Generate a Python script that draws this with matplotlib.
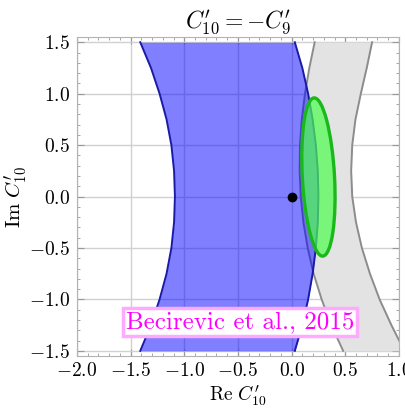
import numpy as np
import matplotlib
matplotlib.use("Agg")
import matplotlib.pyplot as plt
from matplotlib.patches import Ellipse
from matplotlib.ticker import MultipleLocator, FuncFormatter

plt.rcParams['mathtext.fontset'] = 'cm'
plt.rcParams['font.family'] = 'serif'

# Boundary samples (Im C'10 values and Re C'10 boundaries)
y_pts = [-1.5, -1.25, -1.0, -0.75, -0.5, -0.25, 0.0, 0.25, 0.5, 0.75, 1.0, 1.25, 1.5]
blue_left = [-1.41, -1.31, -1.23, -1.165, -1.12, -1.095, -1.087, -1.095, -1.12, -1.165, -1.23, -1.31, -1.41]
blue_right = [0.03, 0.10, 0.154, 0.196, 0.226, 0.244, 0.25, 0.244, 0.226, 0.196, 0.154, 0.10, 0.03]
gray_left = [0.48, 0.37, 0.28, 0.205, 0.15, 0.11, 0.085, 0.075, 0.078, 0.095, 0.125, 0.165, 0.215]
gray_right = [1.05, 0.93, 0.82, 0.73, 0.655, 0.60, 0.565, 0.555, 0.565, 0.595, 0.645, 0.70, 0.75]

# Green ellipse (center, full width, full height, tilt in degrees)
ell_center = (0.25, 0.19)
ell_width = 0.30
ell_height = 1.54
ell_angle = 3.0

sm_point = (0.0, 0.0)
label_text = "Becirevic et al., 2015"
label_pos = (-0.48, -1.22)

fig = plt.figure(figsize=(4.05, 4.08), dpi=100)
ax = fig.add_axes([0.190, 0.1275, 0.795, 0.7815])

ax.set_xlim(-2.0, 1.0)
ax.set_ylim(-1.55, 1.55)

# grid
ax.xaxis.set_major_locator(MultipleLocator(0.5))
ax.yaxis.set_major_locator(MultipleLocator(0.5))
ax.xaxis.set_minor_locator(MultipleLocator(0.1))
ax.yaxis.set_minor_locator(MultipleLocator(0.1))
ax.grid(True, which='major', color=(0.82, 0.82, 0.82), lw=1.0, zorder=0)
ax.set_axisbelow(True)

# gray band
ax.fill_betweenx(y_pts, gray_left, gray_right, color=(0.89, 0.89, 0.89), lw=0, zorder=1)
ax.plot(gray_left, y_pts, color=(0.55, 0.55, 0.55), lw=1.4, zorder=2)
ax.plot(gray_right, y_pts, color=(0.55, 0.55, 0.55), lw=1.4, zorder=2)

# blue band
ax.fill_betweenx(y_pts, blue_left, blue_right, color=(0.0, 0.0, 1.0), alpha=0.5, lw=0, zorder=3)
ax.plot(blue_left, y_pts, color=(0.1, 0.1, 0.65), lw=1.4, zorder=4)
ax.plot(blue_right, y_pts, color=(0.1, 0.1, 0.65), lw=1.4, zorder=4)

# green ellipse
ax.add_patch(Ellipse(ell_center, ell_width, ell_height, angle=ell_angle,
                     facecolor=(0.3, 1.0, 0.3), alpha=0.7, edgecolor='none', zorder=5))
ax.add_patch(Ellipse(ell_center, ell_width, ell_height, angle=ell_angle,
                     facecolor='none', edgecolor=(0.1, 0.72, 0.1), lw=2.4, zorder=6))

# SM point
ax.plot([sm_point[0]], [sm_point[1]], 'o', color='black', ms=6, zorder=7)

# label
ax.text(label_pos[0], label_pos[1], label_text, color='#ff00ff', fontsize=18,
        family='cmr10', ha='center', va='center', zorder=8,
        bbox=dict(boxstyle='square,pad=0.12', fc='white', ec='#ffaaff', lw=2.5))

# ticks
fmt = FuncFormatter(lambda v, p: r'$%.1f$' % v if abs(v) > 1e-9 else r'$0.0$')
ax.xaxis.set_major_formatter(fmt)
ax.yaxis.set_major_formatter(fmt)
ax.tick_params(which='both', direction='in', top=True, right=True, color=(0.6, 0.6, 0.6),
               labelsize=14)
ax.tick_params(axis='x', which='major', pad=4)
ax.tick_params(axis='y', which='major', pad=5)
ax.tick_params(which='major', length=5, width=0.8)
ax.tick_params(which='minor', length=2.5, width=0.6)
for s in ax.spines.values():
    s.set_color((0.7, 0.7, 0.7))
    s.set_linewidth(0.8)

ax.set_xlabel(r"$\mathrm{Re}\ C^{\prime}_{10}$", fontsize=14)
ax.set_ylabel(r"$\mathrm{Im}\ C^{\prime}_{10}$", fontsize=15)
ax.xaxis.set_label_coords(0.5, -0.085)
ax.yaxis.set_label_coords(-0.15, 0.5)
ax.set_title(r"$C^{\prime}_{10} = -C^{\prime}_{9}$", fontsize=17, pad=3)

fig.savefig("out.png", dpi=100)
